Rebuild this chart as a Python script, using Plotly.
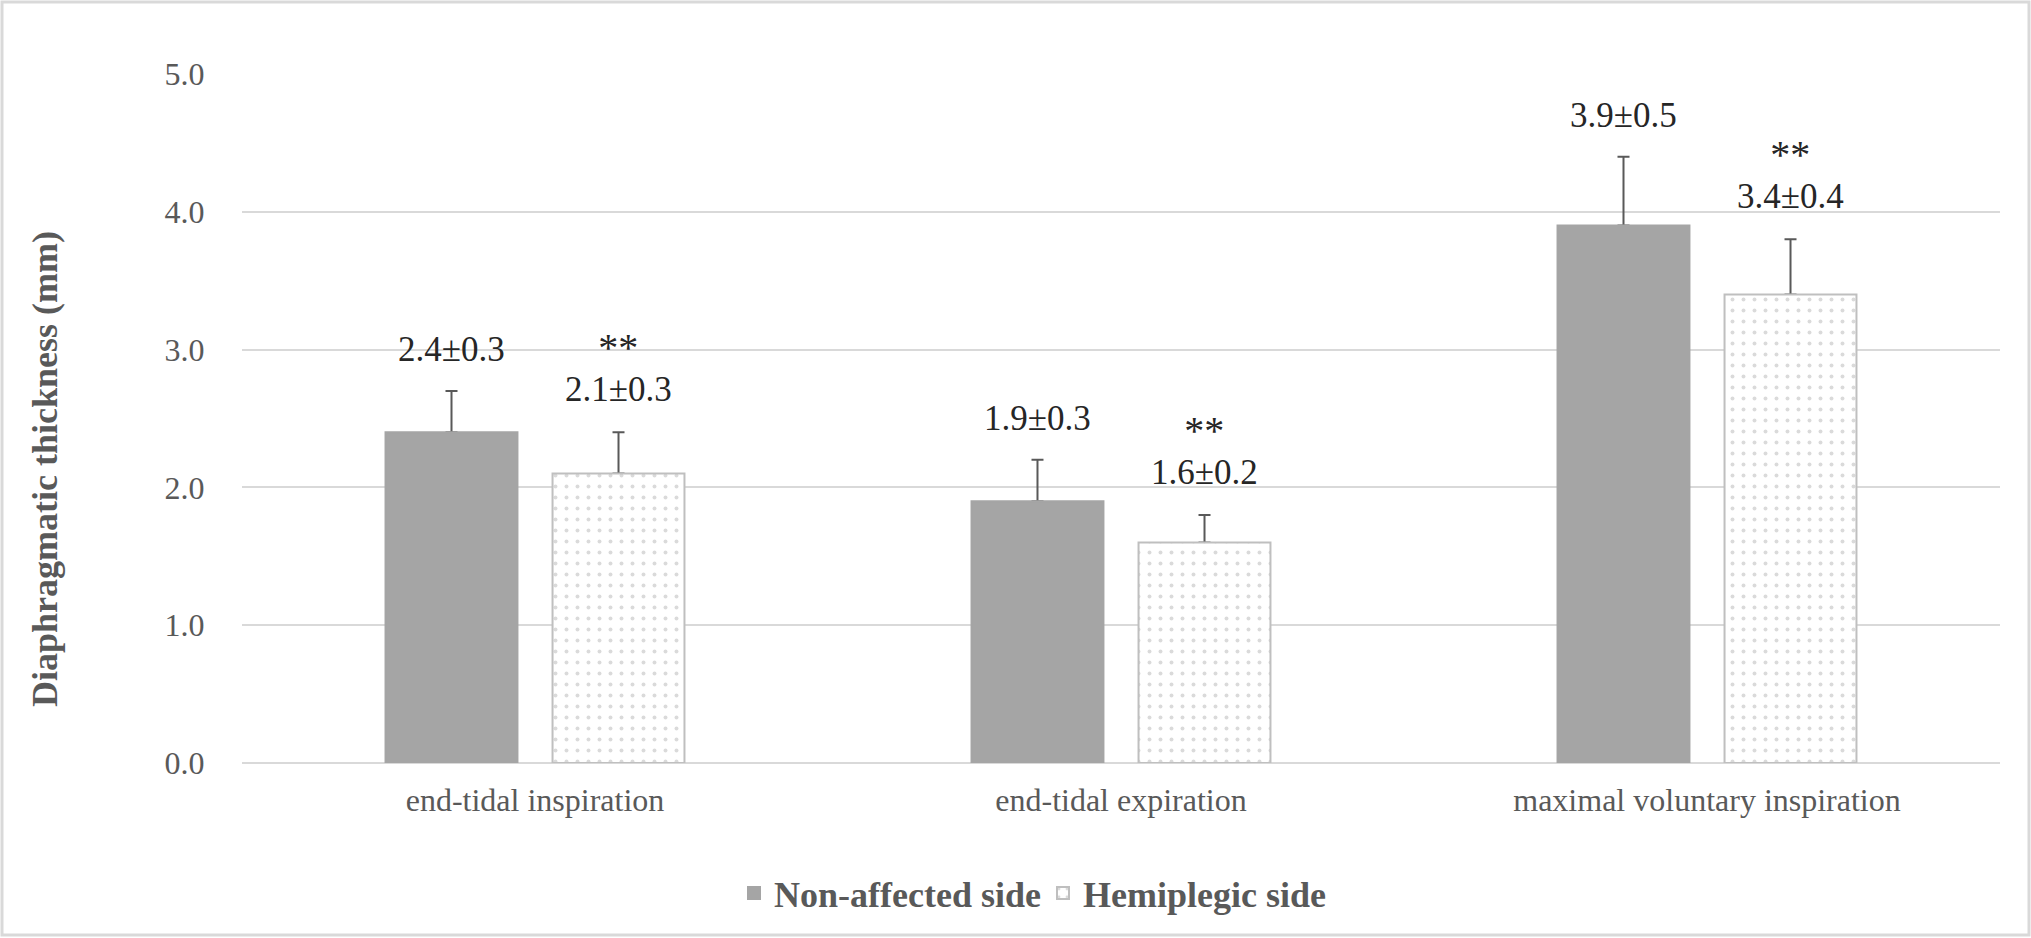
import plotly.graph_objects as go

# ---------------- data ----------------
categories = ["end-tidal inspiration", "end-tidal expiration", "maximal voluntary inspiration"]
series_names = ["Non-affected side", "Hemiplegic side"]
non_affected = [2.4, 1.9, 3.9]
non_affected_sd = [0.3, 0.3, 0.5]
hemiplegic = [2.1, 1.6, 3.4]
hemiplegic_sd = [0.3, 0.2, 0.4]
hemiplegic_sig = ["**", "**", "**"]
y_tick_values = [0, 1, 2, 3, 4, 5]
y_title = "Diaphragmatic thickness (mm)"

# ---------------- styling ----------------
W, H = 2031, 938
ML, MR, MT, MB = 242, 31, 74, 175
BARGAP = 0.43
BARGROUPGAP = 0.21
FONT = "Liberation Serif, Times New Roman, serif"
TXT = "#595959"
GRID = "#d9d9d9"
ERR = "#595959"

fig = go.Figure()

# error-bar carriers (drawn first so the visible bars cover the lower cap)
for vals, sd, grp in [(non_affected, non_affected_sd, "a"), (hemiplegic, hemiplegic_sd, "b")]:
    fig.add_trace(go.Bar(
        x=categories, y=vals, offsetgroup=grp, showlegend=False, hoverinfo="skip",
        marker=dict(color="rgba(0,0,0,0)", line=dict(width=0)),
        error_y=dict(type="data", array=sd, arrayminus=[0] * len(sd), symmetric=False,
                     color=ERR, thickness=2, width=6),
    ))

fig.add_trace(go.Bar(
    x=categories, y=non_affected, name=series_names[0], offsetgroup="a",
    marker=dict(color="#a5a5a5", line=dict(color="#a5a5a5", width=2)),
))
fig.add_trace(go.Bar(
    x=categories, y=hemiplegic, name=series_names[1], offsetgroup="b",
    marker=dict(color="white", line=dict(color="#bfbfbf", width=2),
                pattern=dict(shape=".", fgcolor="#b5b5b5", bgcolor="white", size=11, solidity=0.1)),
))

offset = (1 - BARGAP) / 4
annotations = []
for i, cat in enumerate(categories):
    annotations.append(dict(
        x=i - offset, y=non_affected[i] + non_affected_sd[i], xref="x", yref="y",
        text=f"{non_affected[i]:.1f}±{non_affected_sd[i]:.1f}", showarrow=False,
        yanchor="middle", yshift=41,
        font=dict(family=FONT, size=35, color="#262626"),
    ))
    annotations.append(dict(
        x=i + offset, y=hemiplegic[i] + hemiplegic_sd[i], xref="x", yref="y",
        text=(f"<span style='font-size:40px'>{hemiplegic_sig[i]}</span><br>"
              f"<span style='font-size:35px'>{hemiplegic[i]:.1f}±{hemiplegic_sd[i]:.1f}</span>"),
        showarrow=False, yanchor="middle", yshift=65,
        font=dict(family=FONT, size=31, color="#262626"),
    ))

PW = W - ML - MR
PH = H - MT - MB
annotations.append(dict(
    x=(45 - ML) / PW, y=(H - MB - H / 2) / PH, xref="paper", yref="paper",
    text=y_title, textangle=-90, showarrow=False, xanchor="center", yanchor="middle",
    font=dict(family=FONT, size=36, color=TXT, weight="bold"),
))

fig.update_layout(
    width=W, height=H,
    margin=dict(l=ML, r=MR, t=MT, b=MB),
    paper_bgcolor="white", plot_bgcolor="white",
    barmode="group", bargap=BARGAP, bargroupgap=BARGROUPGAP,
    font=dict(family=FONT, color=TXT),
    annotations=annotations,
    showlegend=True,
    legend=dict(
        orientation="h", x=(1043 - ML) / PW, xanchor="center",
        y=(H - MB - 893) / PH, yanchor="middle",
        font=dict(family=FONT, size=36, color=TXT, weight="bold"),
        entrywidth=264, entrywidthmode="pixels",
        traceorder="normal",
    ),
    shapes=[dict(
        type="rect", xref="paper", yref="paper",
        x0=(2 - ML) / PW, x1=(2029 - ML) / PW,
        y0=(H - MB - 935) / PH, y1=(H - MB - 2) / PH,
        line=dict(color=GRID, width=3), fillcolor="rgba(0,0,0,0)", layer="below",
    )],
)

fig.update_xaxes(
    type="category", showgrid=False, showline=False, zeroline=False,
    ticks="outside", ticklen=9, tickcolor="rgba(0,0,0,0)",
    tickfont=dict(family=FONT, size=32, color=TXT),
)
fig.update_yaxes(
    range=[0, 5], tickvals=y_tick_values, tickformat=".1f",
    showgrid=True, gridcolor=GRID, gridwidth=2,
    zeroline=True, zerolinecolor=GRID, zerolinewidth=2, showline=False,
    ticks="outside", ticklen=30, tickcolor="rgba(0,0,0,0)",
    tickfont=dict(family=FONT, size=32, color=TXT),
)

fig.write_html(
    "out.html",
    config={"displayModeBar": False},
    post_script="document.body.style.margin='0';document.body.style.overflow='hidden';",
)
